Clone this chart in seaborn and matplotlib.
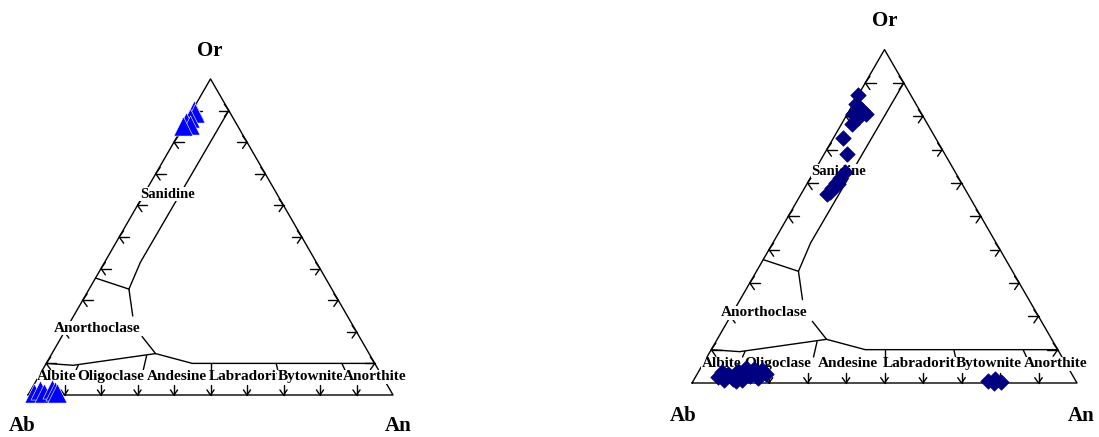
import numpy as np
import pandas as pd
import matplotlib
matplotlib.use("Agg")
import matplotlib.pyplot as plt
import seaborn as sns

# ---------------- data (molar fractions; Ab = 1 - Or - An) ----------------
# left diagram (blue triangles)
left_or = [0.902, 0.892, 0.876, 0.864, 0.854, 0.851,
           0.006, 0.016, 0.006, 0.019, 0.013, 0.006]
left_an = [0.004, 0.011, 0.006, 0.001, 0.017, 0.000,
           0.013, 0.025, 0.041, 0.056, 0.068, 0.076]

# right diagram (navy diamonds)
right_or = [0.864, 0.837, 0.819, 0.807, 0.807, 0.795, 0.777, 0.735, 0.687,
            0.633, 0.615, 0.600, 0.585, 0.567, 0.597, 0.573,
            0.018, 0.009, 0.027, 0.012, 0.036, 0.009, 0.045, 0.021, 0.042,
            0.015, 0.039, 0.027, 0.033, 0.006,
            0.006, 0.012, 0.003, 0.000]
right_an = [0.000, 0.008, 0.032, 0.049, 0.015, 0.034, 0.027, 0.025, 0.059,
            0.081, 0.077, 0.074, 0.071, 0.067, 0.080, 0.072,
            0.059, 0.079, 0.080, 0.101, 0.102, 0.125, 0.118, 0.140, 0.140,
            0.164, 0.162, 0.179, 0.061, 0.111,
            0.766, 0.781, 0.801, 0.784]

# field boundaries as (Or, An) vertices
bnd_sanidine = ([0.90, 0.42, 0.335], [0.10, 0.098, 0.109])
bnd_anortho = ([0.37, 0.335], [0.00, 0.109])
bnd_mid_a = ([0.335, 0.25], [0.109, 0.162])
bnd_mid_b = ([0.185, 0.131, 0.10, 0.10], [0.22, 0.284, 0.40, 0.90])
bnd_albite = ([0.10, 0.094, 0.131], [0.00, 0.077, 0.284])

plag_names = ["Albite", "Oligoclase", "Andesine", "Labradorite", "Bytownite", "Anorthite"]
plag_label_at = [-0.004, 0.113, 0.315, 0.496, 0.696, 0.885]   # An/(Ab+An) at label start
plag_ticks = [0.1, 0.3, 0.5, 0.7, 0.9]
plag_tick_top = [0.095, 0.125, 0.10, 0.10, 0.10]
scale_ticks = [0.1, 0.2, 0.3, 0.4, 0.5, 0.6, 0.7, 0.8, 0.9]

# ---------------- helpers ----------------
H = np.sqrt(3) / 2


def tern(or_, an):
    or_ = np.asarray(or_, float)
    an = np.asarray(an, float)
    return an + 0.5 * or_, or_ * H


sns.set_style("white")
plt.rcParams["font.family"] = ["Liberation Serif", "DejaVu Serif"]
plt.rcParams["font.weight"] = "bold"
plt.rcParams["text.color"] = "black"

fig = plt.figure(figsize=(10.99, 4.37), dpi=100)
W, HH = 1099.0, 437.0


def make_axes(px0, px1, py0, py1, abx, aby, scale):
    ax = fig.add_axes([px0 / W, 1 - py1 / HH, (px1 - px0) / W, (py1 - py0) / HH])
    ax.set_xlim((px0 - abx) / scale, (px1 - abx) / scale)
    ax.set_ylim((aby - py1) / scale, (aby - py0) / scale)
    ax.axis("off")
    return ax


LW = 1.0
K = "black"


def draw_frame(ax, lab_pos):
    x, y = tern([0, 0, 1, 0], [0, 1, 0, 0])
    ax.plot(x, y, color=K, lw=LW, zorder=1)
    for o, a in (bnd_sanidine, bnd_anortho, bnd_mid_a, bnd_mid_b, bnd_albite):
        x, y = tern(o, a)
        ax.plot(x, y, color=K, lw=LW, zorder=1)
    # short ticks on the Or = 10 line
    for r, top in zip(plag_ticks, plag_tick_top):
        x, y = tern([top, 0.078], [r * (1 - top), r * (1 - 0.078)])
        ax.plot(x, y, color=K, lw=LW, zorder=1)
    s, b = 0.027, 0.021
    th = np.radians(55)
    ph = np.radians(35)
    for t in scale_ticks:
        # left edge (Ab-Or): arrows pointing left
        px, py = tern(t, 0.0)
        ax.plot([px, px + s], [py, py], color=K, lw=LW, zorder=1)
        ax.plot([px + b * np.cos(th), px, px + b * np.cos(th)],
                [py + b * np.sin(th), py, py - b * np.sin(th)], color=K, lw=LW, zorder=1)
        # right edge (Or-An): arrows pointing right
        px, py = tern(t, 1 - t)
        ax.plot([px, px - s], [py, py], color=K, lw=LW, zorder=1)
        ax.plot([px - b * np.cos(th), px, px - b * np.cos(th)],
                [py + b * np.sin(th), py, py - b * np.sin(th)], color=K, lw=LW, zorder=1)
        # base (Ab-An): arrows pointing down
        px, py = tern(0.0, t)
        ax.plot([px, px], [py, py + s], color=K, lw=LW, zorder=1)
        bb = 0.017
        ax.plot([px - bb * np.sin(ph), px, px + bb * np.sin(ph)],
                [py + bb * np.cos(ph), py, py + bb * np.cos(ph)], color=K, lw=LW, zorder=1)
    box = dict(facecolor="white", edgecolor="none", pad=0.4)
    fs = 11
    o_lab = 0.058
    for name, r in zip(plag_names, plag_label_at):
        x, y = tern(o_lab, r * (1 - o_lab))
        ax.text(x, y, name, ha="left", va="center", fontsize=fs, color=K,
                fontweight="bold", bbox=box, zorder=2)
    x, y = tern(0.635, 0.064)
    ax.text(x, y, "Sanidine", ha="center", va="center", fontsize=fs - 0.5, color=K,
            fontweight="bold", bbox=box, zorder=2)
    x, y = tern(0.211, 0.083)
    ax.text(x, y, "Anorthoclase", ha="center", va="center", fontsize=fs, color=K,
            fontweight="bold", bbox=box, zorder=2)
    for txt, (x, y) in zip(["Or", "Ab", "An"], lab_pos):
        ax.text(x, y, txt, ha="center", va="center", fontsize=15, color=K,
                fontweight="bold", zorder=2)


# ---------------- left diagram ----------------
axL = make_axes(0, 420, 30, 437, 28, 395, 365.0)
draw_frame(axL, [(0.499, 0.943), (-0.016, -0.086), (1.014, -0.086)])
xl, yl = tern(left_or, left_an)
dfL = pd.DataFrame({"x": xl, "y": yl})
sns.scatterplot(data=dfL, x="x", y="y", marker="^", s=190, color="#0000FF",
                edgecolor="white", linewidth=0.4, ax=axL, legend=False, zorder=5,
                clip_on=False)
axL.set_xlabel("")
axL.set_ylabel("")

# ---------------- right diagram ----------------
axR = make_axes(660, 1099, 0, 437, 692, 383, 385.0)
draw_frame(axR, [(0.501, 0.941), (-0.023, -0.085), (1.010, -0.085)])
xr, yr = tern(right_or, right_an)
dfR = pd.DataFrame({"x": xr, "y": yr})
sns.scatterplot(data=dfR, x="x", y="y", marker="D", s=62, color="#000080",
                edgecolor="#000080", linewidth=0.5, ax=axR, legend=False, zorder=5,
                clip_on=False)
axR.set_xlabel("")
axR.set_ylabel("")

fig.savefig("out.png", dpi=100, facecolor="white")
